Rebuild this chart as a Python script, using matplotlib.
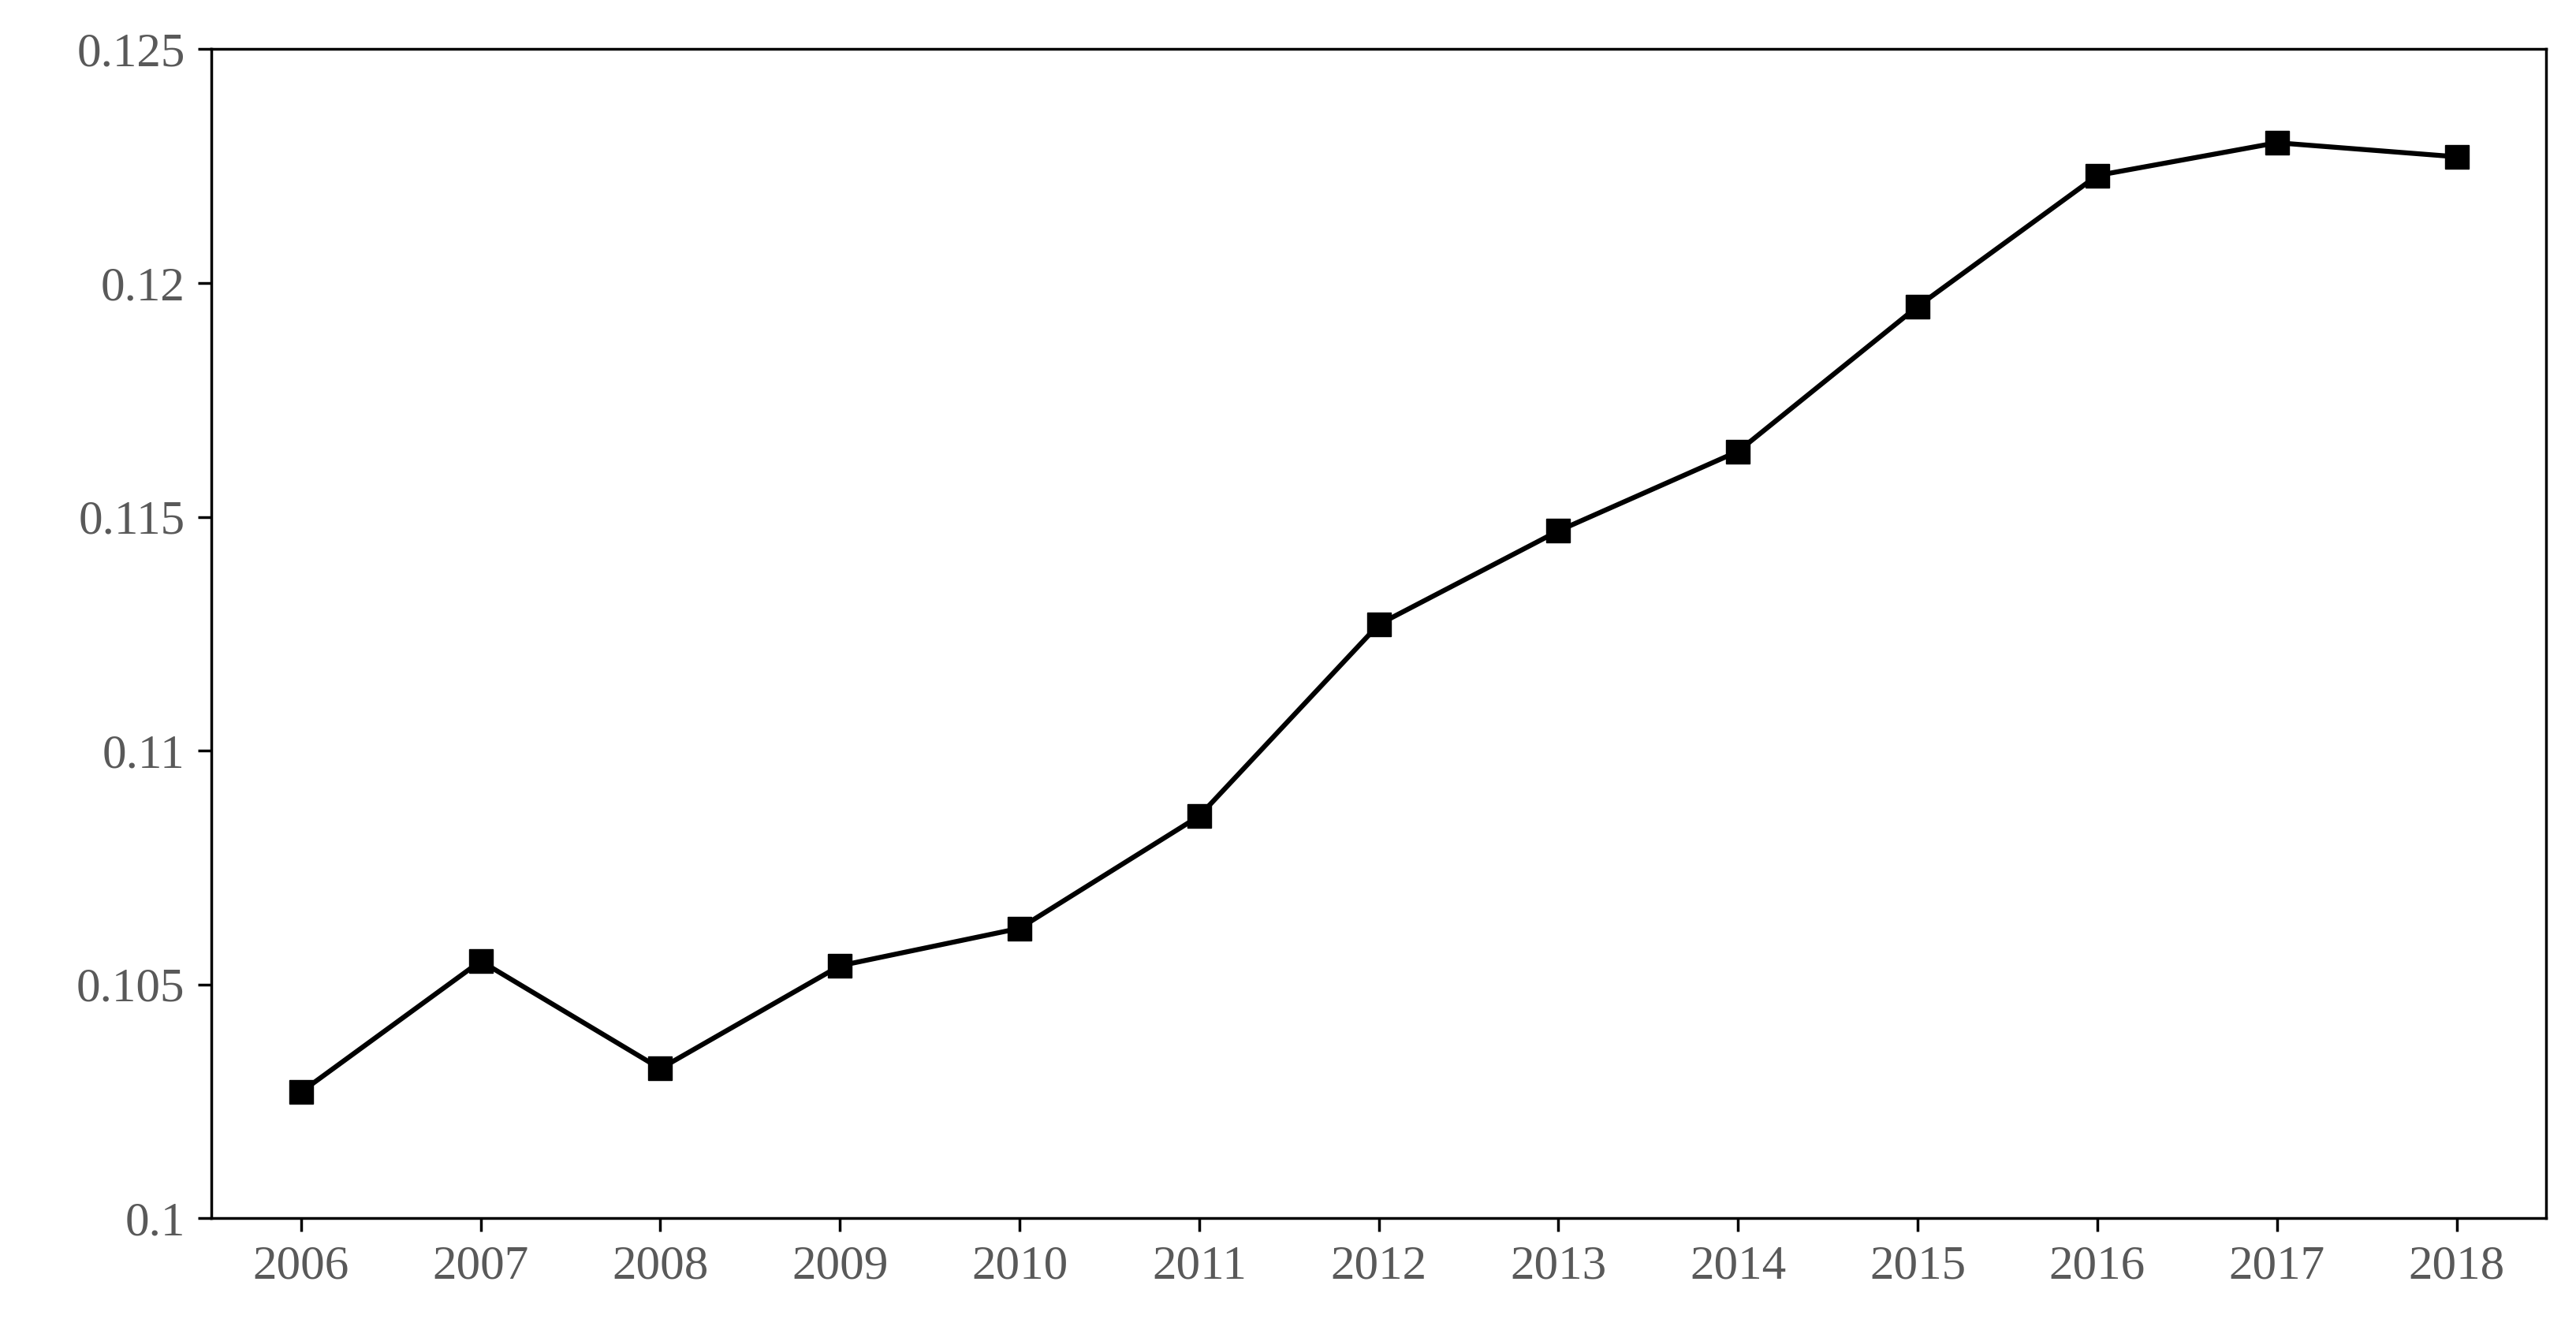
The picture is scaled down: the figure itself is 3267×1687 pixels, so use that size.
import matplotlib.pyplot as plt

# Data
years = [2006, 2007, 2008, 2009, 2010, 2011, 2012, 2013, 2014, 2015, 2016, 2017, 2018]
values = [0.1027, 0.1055, 0.1032, 0.1054, 0.1062, 0.1086, 0.1127, 0.1147,
          0.1164, 0.1195, 0.1223, 0.1230, 0.1227]
y_ticks = [0.1, 0.105, 0.11, 0.115, 0.12, 0.125]
y_labels = ["0.1", "0.105", "0.11", "0.115", "0.12", "0.125"]

plt.rcParams['font.family'] = ['Liberation Serif', 'DejaVu Serif']

fig = plt.figure(figsize=(32.67, 16.87), dpi=100)
ax = fig.add_axes([0.082, 0.084, 0.9065, 0.879])

ax.plot(years, values, color='black', linewidth=4.5, marker='s', markersize=22)

ax.set_xlim(2005.5, 2018.5)
ax.set_ylim(0.1, 0.125)
ax.set_xticks(years)
ax.set_xticklabels([str(y) for y in years])
ax.set_yticks(y_ticks)
ax.set_yticklabels(y_labels)
ax.tick_params(axis='both', labelsize=44, labelcolor='#595959', width=2.5,
               length=12, direction='out', pad=12)
for s in ax.spines.values():
    s.set_linewidth(2.5)

fig.savefig("out.png")
